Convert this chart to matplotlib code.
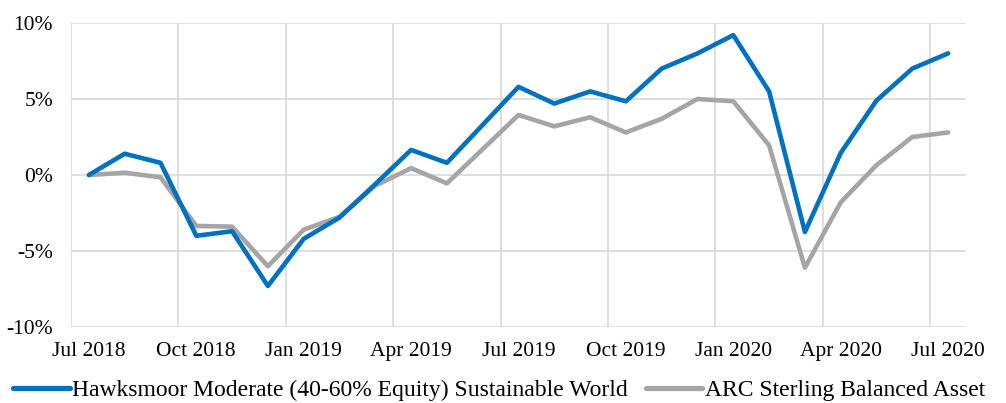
import matplotlib
matplotlib.use("Agg")
import matplotlib.pyplot as plt
import numpy as np

months = ["Jul 2018", "Aug 2018", "Sep 2018", "Oct 2018", "Nov 2018", "Dec 2018",
          "Jan 2019", "Feb 2019", "Mar 2019", "Apr 2019", "May 2019", "Jun 2019",
          "Jul 2019", "Aug 2019", "Sep 2019", "Oct 2019", "Nov 2019", "Dec 2019",
          "Jan 2020", "Feb 2020", "Mar 2020", "Apr 2020", "May 2020", "Jun 2020",
          "Jul 2020"]
hawksmoor = [0.0, 1.4, 0.8, -4.0, -3.7, -7.3, -4.2, -2.8, -0.6, 1.65, 0.8, 3.3,
             5.8, 4.7, 5.5, 4.85, 7.0, 8.0, 9.2, 5.5, -3.75, 1.45, 4.9, 7.0, 8.0]
arc = [0.0, 0.15, -0.15, -3.35, -3.4, -6.0, -3.6, -2.75, -0.7, 0.45, -0.55, 1.7,
       3.95, 3.2, 3.8, 2.8, 3.7, 5.0, 4.85, 1.95, -6.1, -1.8, 0.65, 2.5, 2.8]
series_names = ["Hawksmoor Moderate (40-60% Equity) Sustainable World",
                "ARC Sterling Balanced Asset"]
yticks = [-10, -5, 0, 5, 10]
ytick_labels = ["-10%", "-5%", "0%", "5%", "10%"]

plt.rcParams['font.family'] = ['Liberation Serif', 'DejaVu Serif']

fig = plt.figure(figsize=(10.06, 4.03), dpi=100)
ax = fig.add_axes([71/1006, 1-327/403, (966-71)/1006, (327-23)/403])

x = np.arange(len(months))
grid_c = "#D9D9D9"
ax.plot(x, hawksmoor, color="#0070C0", lw=3.3, solid_joinstyle='round',
        solid_capstyle='round', label=series_names[0], zorder=3)
ax.plot(x, arc, color="#A5A5A5", lw=3.3, solid_joinstyle='round',
        solid_capstyle='round', label=series_names[1], zorder=2)

ax.set_xlim(-0.5, len(months) - 0.5)
ax.set_ylim(-10, 10)
ax.set_yticks(yticks)
ax.set_yticklabels(ytick_labels)
label_idx = list(range(0, len(months), 3))
ax.set_xticks(label_idx)
ax.set_xticklabels([months[i] for i in label_idx])

for v in [i - 0.5 for i in label_idx]:
    ax.axvline(v, color=grid_c, lw=1.2, zorder=1)
for yv in yticks:
    ax.axhline(yv, color=grid_c, lw=1.2, zorder=1)

for s in ax.spines.values():
    s.set_visible(False)
ax.tick_params(axis='both', which='both', length=0, labelsize=15.5, colors="#000000")
ax.tick_params(axis='y', pad=13)
ax.tick_params(axis='x', pad=11)

leg = fig.legend(loc='center', bbox_to_anchor=(499/1006, 1-390/403), ncol=2, frameon=False,
                 fontsize=17, handlelength=2.4, handletextpad=0.1, columnspacing=0.75,
                 borderpad=0, borderaxespad=0)
for h in leg.get_lines():
    h.set_linewidth(3.8)

fig.savefig("out.png", dpi=100)
